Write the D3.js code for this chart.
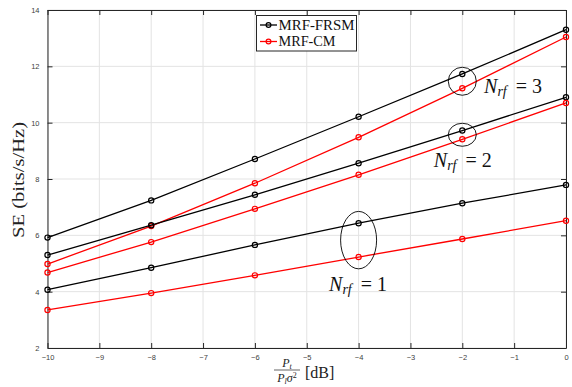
<!DOCTYPE html>
<html><head><meta charset="utf-8">
<script src="https://cdn.jsdelivr.net/npm/d3@7"></script>
<style>body{margin:0;background:#fff}svg{display:block}</style>
</head><body>
<script>
const xValues = [-10, -8, -6, -4, -2, 0];
const xTicks = [-10, -9, -8, -7, -6, -5, -4, -3, -2, -1, 0];
const yTicks = [2, 4, 6, 8, 10, 12, 14];
const frsm3 = [5.92, 7.24, 8.71, 10.21, 11.73, 13.30];
const cm3   = [4.98, 6.33, 7.85, 9.48, 11.22, 13.04];
const frsm2 = [5.30, 6.36, 7.44, 8.56, 9.72, 10.90];
const cm2   = [4.68, 5.76, 6.94, 8.15, 9.41, 10.70];
const frsm1 = [4.07, 4.85, 5.66, 6.43, 7.14, 7.79];
const cm1   = [3.35, 3.95, 4.58, 5.23, 5.87, 6.52];
const legendLabels = ["MRF-FRSM", "MRF-CM"];
const colors = ["#000000", "#ff0000"];
const annotations = [
  {x: -2, y: 11.47, rx: 14, ry: 14, label: "3", lx: -1.58, ly: 11.04},
  {x: -2, y: 9.57, rx: 14, ry: 11.5, label: "2", lx: -2.55, ly: 8.42},
  {x: -4, y: 5.83, rx: 18, ry: 28.7, label: "1", lx: -4.57, ly: 4.03}
];

const W = 572, H = 387;
const m = {l: 47.5, t: 10, r: 6, b: 39};
const svg = d3.select("body").append("svg").attr("width", W).attr("height", H);
const x = d3.scaleLinear().domain([-10, 0]).range([m.l, W - m.r]);
const y = d3.scaleLinear().domain([2, 14]).range([H - m.b, m.t]);

// grid
const g = svg.append("g");
g.selectAll(".gx").data(xTicks).join("line")
  .attr("x1", d => x(d)).attr("x2", d => x(d)).attr("y1", y(2)).attr("y2", y(14))
  .attr("stroke", "#e3e3e3").attr("stroke-width", 1);
g.selectAll(".gy").data(yTicks).join("line")
  .attr("x1", x(-10)).attr("x2", x(0)).attr("y1", d => y(d)).attr("y2", d => y(d))
  .attr("stroke", "#e3e3e3").attr("stroke-width", 1);

// axes
const axStyle = sel => {
  sel.select(".domain").attr("stroke", "#262626");
  sel.selectAll(".tick line").attr("stroke", "#262626");
  sel.selectAll(".tick text").attr("fill", "#404040").attr("font-family", "Arial, 'Liberation Sans', sans-serif").attr("font-size", "7.5px");
};
svg.append("g").attr("transform", `translate(0,${y(2)})`)
  .call(d3.axisBottom(x).tickValues(xTicks).tickSize(-5).tickSizeOuter(0).tickPadding(7).tickFormat(d3.format("d")))
  .call(axStyle);
svg.append("g").attr("transform", `translate(0,${y(14)})`)
  .call(d3.axisTop(x).tickValues(xTicks).tickSize(-5).tickSizeOuter(0).tickFormat(""))
  .call(axStyle);
svg.append("g").attr("transform", `translate(${x(-10)},0)`)
  .call(d3.axisLeft(y).tickValues(yTicks).tickSize(-5).tickSizeOuter(0).tickPadding(8).tickFormat(d3.format("d")))
  .call(axStyle);
svg.append("g").attr("transform", `translate(${x(0)},0)`)
  .call(d3.axisRight(y).tickValues(yTicks).tickSize(-5).tickSizeOuter(0).tickFormat(""))
  .call(axStyle);

// series
const series = [
  {v: frsm3, c: 0}, {v: cm3, c: 1},
  {v: frsm2, c: 0}, {v: cm2, c: 1},
  {v: frsm1, c: 0}, {v: cm1, c: 1}
];
const line = d3.line().x((d, i) => x(xValues[i])).y(d => y(d));
series.forEach(s => {
  svg.append("path").datum(s.v).attr("d", line).attr("fill", "none")
    .attr("stroke", colors[s.c]).attr("stroke-width", 1.3);
  svg.selectAll(null).data(s.v).join("circle")
    .attr("cx", (d, i) => x(xValues[i])).attr("cy", d => y(d)).attr("r", 2.6)
    .attr("fill", "none").attr("stroke", colors[s.c]).attr("stroke-width", 1.2);
});

// annotations
const serif = "'Liberation Serif', 'DejaVu Serif', serif";
annotations.forEach(a => {
  svg.append("ellipse").attr("cx", x(a.x)).attr("cy", y(a.y)).attr("rx", a.rx).attr("ry", a.ry)
    .attr("fill", "none").attr("stroke", "#000").attr("stroke-width", 0.9);
  const t = svg.append("text").attr("x", x(a.lx)).attr("y", y(a.ly))
    .attr("font-family", serif).attr("font-size", "20px").attr("fill", "#111");
  t.append("tspan").attr("font-style", "italic").text("N");
  t.append("tspan").attr("font-style", "italic").attr("font-size", "14px").attr("dy", 3).text("rf");
  t.append("tspan").attr("dy", -3).attr("dx", 9).text("=");
  t.append("tspan").attr("dx", 5).text(a.label);
});

// legend
const lg = svg.append("g");
lg.append("rect").attr("x", 256.5).attr("y", 15.5).attr("width", 100).attr("height", 35.5)
  .attr("fill", "#fff").attr("stroke", "#262626").attr("stroke-width", 1);
legendLabels.forEach((l, i) => {
  const yy = 25 + i * 16.5;
  lg.append("line").attr("x1", 260).attr("x2", 277).attr("y1", yy).attr("y2", yy)
    .attr("stroke", colors[i]).attr("stroke-width", 1.3);
  lg.append("circle").attr("cx", 268.5).attr("cy", yy).attr("r", 2.4)
    .attr("fill", "none").attr("stroke", colors[i]).attr("stroke-width", 1.2);
  lg.append("text").attr("x", 278.5).attr("y", yy + 4.5)
    .attr("font-family", serif).attr("font-size", "14px").attr("fill", "#111")
    .attr("textLength", i === 0 ? 76 : 57).attr("lengthAdjust", "spacingAndGlyphs").text(l);
});

// y label
svg.append("text").attr("transform", `translate(24,${180}) rotate(-90)`)
  .attr("text-anchor", "middle").attr("font-family", serif).attr("font-size", "16px").attr("fill", "#222")
  .attr("textLength", 116).attr("lengthAdjust", "spacingAndGlyphs")
  .text("SE (bits/s/Hz)");

// x label (fraction)
const fx = 287;
const num = svg.append("text").attr("x", fx).attr("y", 367).attr("text-anchor", "middle")
  .attr("font-family", serif).attr("font-size", "12px").attr("fill", "#222");
num.append("tspan").attr("font-style", "italic").text("P");
num.append("tspan").attr("font-style", "italic").attr("font-size", "8px").attr("dy", 2).text("t");
svg.append("line").attr("x1", 274).attr("x2", 300).attr("y1", 370).attr("y2", 370)
  .attr("stroke", "#222").attr("stroke-width", 0.7);
const den = svg.append("text").attr("x", fx).attr("y", 381.5).attr("text-anchor", "middle")
  .attr("font-family", serif).attr("font-size", "12px").attr("fill", "#222");
den.append("tspan").attr("font-style", "italic").text("P");
den.append("tspan").attr("font-style", "italic").attr("font-size", "8px").attr("dy", 2).text("l");
den.append("tspan").attr("font-style", "italic").attr("dy", -2).text("σ");
den.append("tspan").attr("font-size", "8px").attr("dy", -4).text("2");
svg.append("text").attr("x", 305).attr("y", 377.5).attr("font-family", serif).attr("font-size", "16px")
  .attr("fill", "#222").text("[dB]");
</script>
</body></html>
